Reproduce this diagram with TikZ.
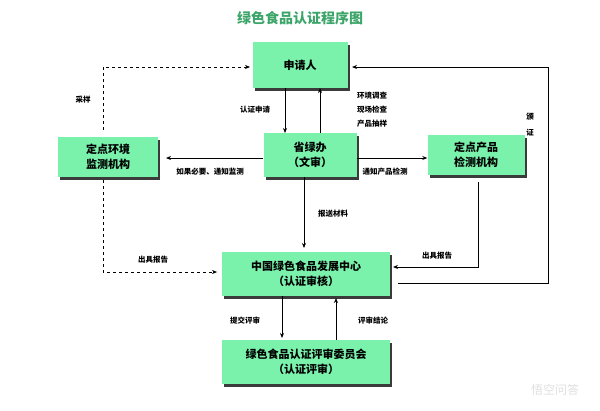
\documentclass[tikz,border=0pt]{standalone}
\usepackage{fontspec}
\setmainfont{Noto Sans CJK SC}
\usetikzlibrary{shadows,arrows.meta}
\definecolor{boxg}{RGB}{122,242,172}
\definecolor{titleg}{RGB}{60,165,105}
\tikzset{x=1pt,y=-1pt,
  bx/.style={draw=none,fill=boxg,minimum width=#1,align=center,font=\bfseries\fontsize{11}{15}\selectfont,drop shadow={shadow xshift=2pt,shadow yshift=-2.5pt,fill=black!85,opacity=0.9}},
  lb/.style={font=\bfseries\fontsize{7.5}{9}\selectfont,inner sep=1pt},
  ar/.style={-{Stealth[length=5pt,width=4pt]},line width=1pt},
  da/.style={-{Stealth[length=5pt,width=4pt]},line width=0.7pt,dashed}}
\begin{document}
\begin{tikzpicture}
\useasboundingbox[fill=white] (0,0) rectangle (600,410);
\node[font=\bfseries\fontsize{14}{16}\selectfont,text=titleg] (t) at (300,18) {绿色食品认证程序图};
\node[bx=95pt,minimum height=46pt] (a) at (300,65) {申请人};
\node[bx=93pt,minimum height=44pt] (b) at (310,155) {省绿办\\（文审）};
\node[bx=100pt,minimum height=40pt] (c) at (108,157) {定点环境\\监测机构};
\node[bx=97pt,minimum height=40pt] (d) at (476,155) {定点产品\\检测机构};
\node[bx=168pt,minimum height=44pt] (e) at (306,274) {中国绿色食品发展中心\\（认证审核）};
\node[bx=168pt,minimum height=44pt] (f) at (306,362) {绿色食品认证评审委员会\\（认证评审）};
\coordinate (k1) at (103,130); \coordinate (k2) at (103,67);
\coordinate (k3) at (103,272); \coordinate (k4) at (478,267);
\coordinate (k5) at (548,283); \coordinate (k6) at (548,67);
\draw[ar] (285,88) -- (285,133);
\draw[ar] (320,133) -- (320,88);
\draw[ar] (b.west |- 0,158) -- (166,158);
\draw[ar] (b.east |- 0,158) -- (d.west |- 0,158);
\draw[ar] (304,177) -- (304,248);
\draw[da] (k1) -- (k2) -- (250,67);
\draw[da] (103,180) -- (k3) -- (217,272);
\draw[ar] (478,182) -- (k4) -- (393,267);
\draw[ar] (398,283) -- (k5) -- (k6) -- (352,67);
\draw[ar] (282,296) -- (282,338);
\draw[ar] (336,340) -- (336,298);
\node[lb] at (255,110) {认证申请};
\node[lb,align=left] at (372,110) {环境调查\\[5pt]现场检查\\[5pt]产品抽样};
\node[lb] at (210,172) {如果必要、通知监测};
\node[lb] at (385,172) {通知产品检测};
\node[lb] at (333,214) {报送材料};
\node[lb] at (83,100) {采样};
\node[lb] at (153,260) {出具报告};
\node[lb] at (437,256) {出具报告};
\node[lb,align=center] at (530,125) {颁\\[7pt]证};
\node[lb] at (245,321) {提交评审};
\node[lb] at (373,321) {评审结论};
\node[font=\fontsize{12}{13}\selectfont,text=black!12] at (555,390) {悟空问答};
\end{tikzpicture}
\end{document}
